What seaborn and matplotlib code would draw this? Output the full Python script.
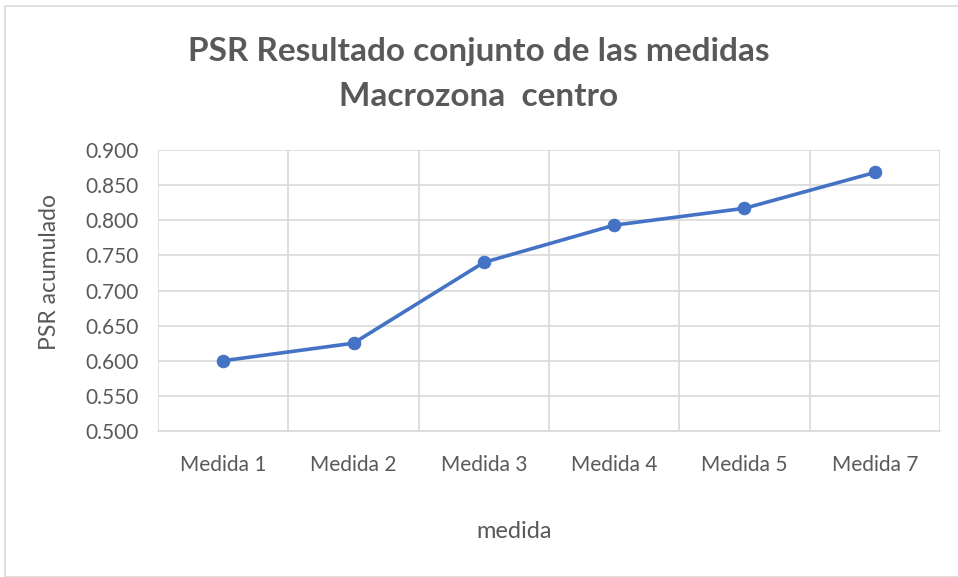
import numpy as np
import pandas as pd
import matplotlib
matplotlib.use("Agg")
import matplotlib.pyplot as plt
import seaborn as sns
from matplotlib.patches import Rectangle
from matplotlib.ticker import FixedLocator

categories = ["Medida 1", "Medida 2", "Medida 3", "Medida 4", "Medida 5", "Medida 7"]
psr_values = [0.600, 0.625, 0.740, 0.793, 0.817, 0.868]
y_ticks = [0.500, 0.550, 0.600, 0.650, 0.700, 0.750, 0.800, 0.850, 0.900]

sns.set_theme(style="white")
plt.rcParams["font.family"] = ["Lato", "DejaVu Sans"]

df = pd.DataFrame({"medida": categories, "psr": psr_values})
df["pos"] = np.arange(len(categories))

W, H = 958, 577
fig = plt.figure(figsize=(W / 100, H / 100), dpi=100)
ax = fig.add_axes([158 / W, 1 - 431 / H, (940 - 158) / W, (431 - 150) / H])

# chart border
fig.patches.append(Rectangle((5 / W, 0), 1.0, 1 - 6 / H, transform=fig.transFigure,
                             fill=False, edgecolor="#d9d9d9", linewidth=1.2))

sns.lineplot(data=df, x="pos", y="psr", ax=ax, color="#4472C4", linewidth=2.6,
             marker="o", markersize=9, markeredgecolor="#4472C4")

ax.set_xlim(-0.5, len(categories) - 0.5)
ax.set_ylim(0.5, 0.9)
ax.set_yticks(y_ticks)
ax.set_yticklabels([f"{v:.3f}" for v in y_ticks])
ax.set_xticks(df["pos"])
ax.set_xticklabels(categories)
ax.xaxis.set_minor_locator(FixedLocator(np.arange(-0.5, len(categories), 1.0)))

ax.grid(True, axis="y", which="major", color="#d9d9d9", linewidth=1.2)
ax.grid(True, axis="x", which="minor", color="#d9d9d9", linewidth=1.2)
ax.set_axisbelow(True)
for side in ["top", "right", "left"]:
    ax.spines[side].set_visible(False)
ax.spines["bottom"].set_color("#d9d9d9")
ax.spines["bottom"].set_linewidth(1.2)

ax.tick_params(axis="both", which="both", length=0, labelsize=15, colors="#595959")
ax.tick_params(axis="x", pad=17)
ax.tick_params(axis="y", pad=14)

ax.set_xlabel("")
ax.set_ylabel("")
fig.text(514 / W, 1 - 532 / H, "medida", ha="center", va="center",
         fontsize=17, color="#595959")
fig.text(50 / W, 1 - 272 / H, "PSR acumulado", ha="center", va="center",
         rotation=90, fontsize=16.5, color="#595959")

fig.text(0.5, 1 - 52 / H, "PSR Resultado conjunto de las medidas", ha="center", va="center",
         fontsize=24, fontweight="bold", color="#595959")
fig.text(0.5, 1 - 97 / H, "Macrozona  centro", ha="center", va="center",
         fontsize=24, fontweight="bold", color="#595959")

fig.savefig("out.png", dpi=100)
